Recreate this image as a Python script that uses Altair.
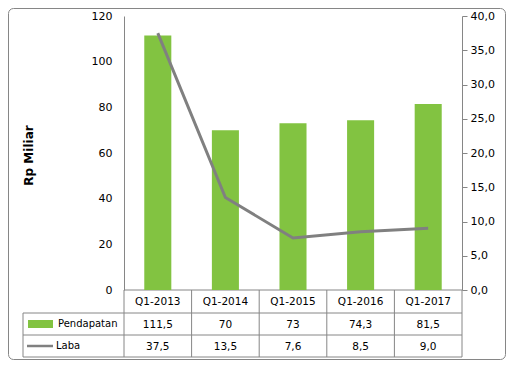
import altair as alt
import pandas as pd

categories = ["Q1-2013", "Q1-2014", "Q1-2015", "Q1-2016", "Q1-2017"]
pendapatan = [111.5, 70, 73, 74.3, 81.5]
laba = [37.5, 13.5, 7.6, 8.5, 9.0]
pendapatan_labels = ["111,5", "70", "73", "74,3", "81,5"]
laba_labels = ["37,5", "13,5", "7,6", "8,5", "9,0"]

df = pd.DataFrame({
    "cat": categories,
    "pend": pendapatan,
    "laba": laba,
    "pend_lbl": pendapatan_labels,
    "laba_lbl": laba_labels,
})

W, H = 338, 274
GRAY = "#868686"
FONT = "DejaVu Sans"
TFS = 10.5
xs = alt.X("cat:N", sort=categories, scale=alt.Scale(paddingInner=0, paddingOuter=0), axis=None)

base = alt.Chart(df)
one = pd.DataFrame({"a": [0]})

border = alt.Chart(one).mark_rect(
    filled=False, stroke=GRAY, strokeWidth=1, cornerRadius=5
).encode(x=alt.value(-115.5), x2=alt.value(381.5), y=alt.value(-7.5), y2=alt.value(343.5))

bars = base.mark_bar(color="#82C341", width={"band": 0.4}).encode(
    x=xs,
    y=alt.Y("pend:Q", scale=alt.Scale(domain=[0, 120]),
            axis=alt.Axis(values=[0, 20, 40, 60, 80, 100, 120], ticks=False, grid=False,
                          domainColor=GRAY, labelPadding=12, labelFontSize=11, labelFont=FONT,
                          labelColor="black", title="Rp Miliar", titleFont=FONT, titleFontSize=12,
                          titleFontWeight="bold", titleColor="black", titleX=-96, titleY=139,
                          titleAngle=-90, titleAlign="center", titleBaseline="middle")),
)

line = base.mark_line(color="#808080", strokeWidth=3).encode(
    x=xs,
    y=alt.Y("laba:Q", scale=alt.Scale(domain=[0, 40]),
            axis=alt.Axis(orient="right", values=[0, 5, 10, 15, 20, 25, 30, 35, 40], grid=False,
                          tickSize=5, tickColor=GRAY, domainColor=GRAY, labelPadding=3,
                          labelFontSize=11, labelFont=FONT, labelColor="black", title=None,
                          labelExpr="replace(format(datum.value, '.1f'), '.', ',')")),
)

R0, R1, R2, R3 = 274, 297, 319, 341

vrules = base.mark_rule(color=GRAY, strokeWidth=1).encode(
    x=alt.X("cat:N", sort=categories, bandPosition=0, axis=None),
    y=alt.value(R0), y2=alt.value(R3),
)
right_rule = alt.Chart(one).mark_rule(color=GRAY).encode(
    x=alt.value(338), y=alt.value(R0), y2=alt.value(R3))
leg_rule = alt.Chart(one).mark_rule(color=GRAY).encode(
    x=alt.value(-101), y=alt.value(R1), y2=alt.value(R3))
hrules = [alt.Chart(one).mark_rule(color=GRAY).encode(
    x=alt.value(-101), x2=alt.value(338), y=alt.value(yy)) for yy in (R1, R2, R3)]
xaxis_line = alt.Chart(one).mark_rule(color=GRAY).encode(
    x=alt.value(0), x2=alt.value(338), y=alt.value(R0))

hdr = base.mark_text(font=FONT, fontSize=TFS, color="black", baseline="middle").encode(
    x=xs, y=alt.value((R0 + R1) / 2 + 0.5), text="cat:N")
row1 = base.mark_text(font=FONT, fontSize=TFS, color="black", baseline="middle").encode(
    x=xs, y=alt.value((R1 + R2) / 2 + 0.5), text="pend_lbl:N")
row2 = base.mark_text(font=FONT, fontSize=TFS, color="black", baseline="middle").encode(
    x=xs, y=alt.value((R2 + R3) / 2 + 0.5), text="laba_lbl:N")

key1 = alt.Chart(one).mark_rect(color="#82C341").encode(
    x=alt.value(-96), x2=alt.value(-71), y=alt.value(304), y2=alt.value(312))
key2 = alt.Chart(one).mark_rule(color="#808080", strokeWidth=2.5).encode(
    x=alt.value(-97), x2=alt.value(-71), y=alt.value((R2 + R3) / 2))
legtxt1 = alt.Chart(pd.DataFrame({"t": ["Pendapatan"]})).mark_text(
    font=FONT, fontSize=10, color="black", align="left", baseline="middle").encode(
    x=alt.value(-66), y=alt.value((R1 + R2) / 2), text="t:N")
legtxt2 = alt.Chart(pd.DataFrame({"t": ["Laba"]})).mark_text(
    font=FONT, fontSize=10, color="black", align="left", baseline="middle").encode(
    x=alt.value(-68), y=alt.value((R2 + R3) / 2 - 0.5), text="t:N")

chart = alt.layer(
    border, vrules, right_rule, leg_rule, *hrules, xaxis_line,
    bars, line, hdr, row1, row2, key1, key2, legtxt1, legtxt2
).resolve_scale(y="independent").properties(
    width=W, height=H,
    padding={"left": 116, "top": 8, "right": 44, "bottom": 70},
    autosize=alt.AutoSizeParams(type="none"),
).configure_view(stroke=None)

chart.save("out.html", embed_options={"renderer": "svg", "actions": False})
